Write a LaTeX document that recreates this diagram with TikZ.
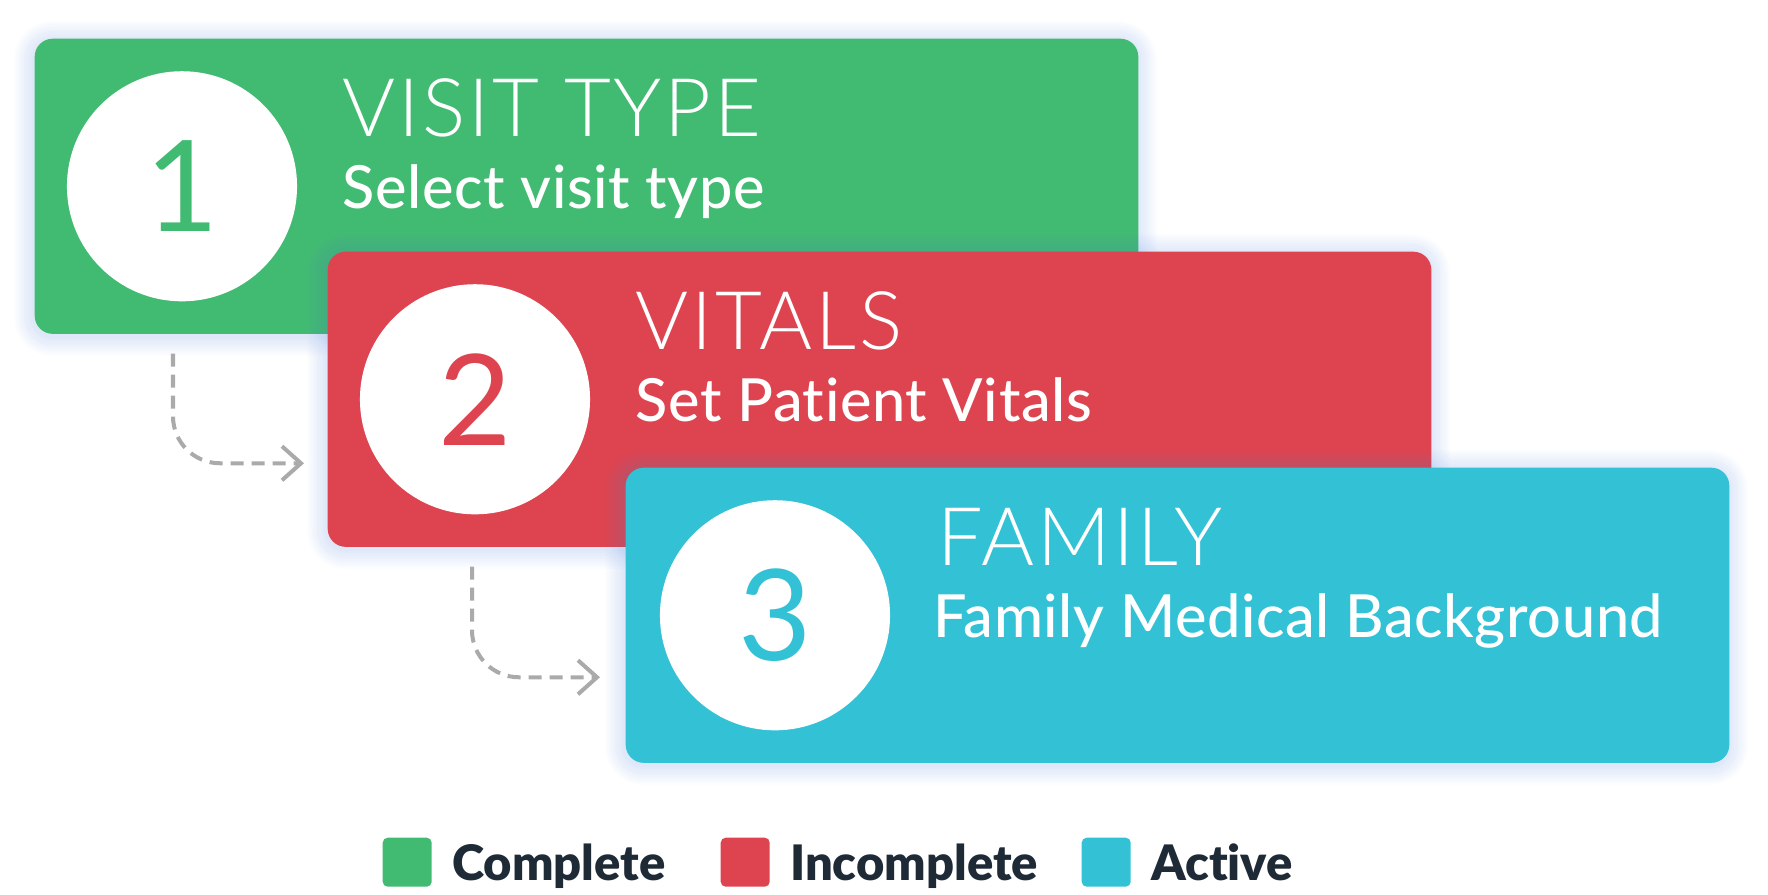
\documentclass[tikz,border=0pt]{standalone}
\usepackage{fontspec}
\setmainfont{Lato}[Ligatures=NoCommon]
\newfontfamily\lightfont{Lato Light}[Ligatures=NoCommon, LetterSpace=3.5]
\newfontfamily\mediumfont{Lato Medium}[Ligatures=NoCommon, LetterSpace=1]
\newfontfamily\heavyfont{Lato Black}[Ligatures=NoCommon]
\usetikzlibrary{calc,positioning,arrows.meta}

\definecolor{done}{RGB}{66,187,114}
\definecolor{todo}{RGB}{222,68,80}
\definecolor{now}{RGB}{50,193,213}
\definecolor{ink}{RGB}{31,42,55}
\definecolor{arrowgray}{RGB}{170,170,170}
\definecolor{glow}{RGB}{80,130,220}

\tikzset{
  card/.style={fill=#1, rounded corners=0.18cm, minimum width=11.03cm, minimum height=2.95cm,
    inner sep=0pt, anchor=north west},
  badge/.style={circle, fill=white, minimum size=2.3cm, inner sep=0pt, text=#1,
    font=\fontsize{36}{36}\selectfont},
  title/.style={anchor=base west, text=white, inner sep=0pt, font=\lightfont\fontsize{23}{23}\selectfont},
  subtitle/.style={anchor=base west, text=white, inner sep=0pt, font=\mediumfont\fontsize{16.9}{17}\selectfont},
  swatch/.style={fill=#1, rounded corners=0.05cm, minimum size=0.49cm, inner sep=0pt, anchor=north west},
  keytext/.style={text=ink, inner sep=0pt, text depth=0pt, font=\heavyfont\fontsize{13.9}{14}\selectfont},
  flow/.style={draw=arrowgray, line width=0.04cm, dash pattern=on 0.13cm off 0.08cm, rounded corners=0.47cm,
    -{Straight Barb[length=0.19cm, width=0.34cm, line width=0.04cm]}}
}

\begin{document}
\begin{tikzpicture}[x=0.01cm, y=-0.01cm]
  \useasboundingbox (0,0) rectangle (1768,895);

  % corners of the three steps
  \coordinate (c1) at (34,38);
  \coordinate (c2) at (327,251);
  \coordinate (c3) at (625,467);

  % step 1
  \foreach \r in {2,4,...,20}
    \fill[glow, opacity=0.018, rounded corners=0.18cm+\r*0.01cm]
      ($(c1)+(-\r,-\r+3)$) rectangle ($(c1)+(1103+\r,295+\r+3)$);
  \node[card=done] (card1) at (c1) {};
  \node[badge=done] (num1) at ($(card1.west)+(148,0)$) {1};
  \node[title] (title1) at ($(card1.north west)+(308,99)$) {VISIT TYPE};
  \node[subtitle] (sub1) at ($(card1.north west)+(308,171)$) {Select visit type};

  % step 2
  \foreach \r in {2,4,...,20}
    \fill[glow, opacity=0.018, rounded corners=0.18cm+\r*0.01cm]
      ($(c2)+(-\r,-\r+3)$) rectangle ($(c2)+(1103+\r,295+\r+3)$);
  \node[card=todo] (card2) at (c2) {};
  \node[badge=todo] (num2) at ($(card2.west)+(148,0)$) {2};
  \node[title] (title2) at ($(card2.north west)+(308,99)$) {VITALS};
  \node[subtitle] (sub2) at ($(card2.north west)+(308,171)$) {Set Patient Vitals};

  % step 3
  \foreach \r in {2,4,...,20}
    \fill[glow, opacity=0.018, rounded corners=0.18cm+\r*0.01cm]
      ($(c3)+(-\r,-\r+3)$) rectangle ($(c3)+(1103+\r,295+\r+3)$);
  \node[card=now] (card3) at (c3) {};
  \node[badge=now] (num3) at ($(card3.west)+(150,0)$) {3};
  \node[title] (title3) at ($(card3.north west)+(312,99)$) {FAMILY};
  \node[subtitle] (sub3) at ($(card3.north west)+(308,171)$) {Family Medical Background};

  % arrows between steps
  \coordinate (s1) at ($(card1.south west)+(139,19)$);
  \coordinate (e1) at ($(card2.west)+(-23,64)$);
  \coordinate (s2) at ($(card2.south west)+(145,19)$);
  \coordinate (e2) at ($(card3.west)+(-25,62)$);
  \draw[flow] (s1) |- (e1);
  \draw[flow] (s2) |- (e2);

  % legend
  \node[swatch=done] (key1) at (382,837) {};
  \node[keytext, right=0.19cm of key1] (lab1) {Complete};
  \node[swatch=todo] (key2) at (720,837) {};
  \node[keytext, right=0.19cm of key2] (lab2) {Incomplete};
  \node[swatch=now] (key3) at (1081,837) {};
  \node[keytext, right=0.19cm of key3] (lab3) {Active};
\end{tikzpicture}
\end{document}
